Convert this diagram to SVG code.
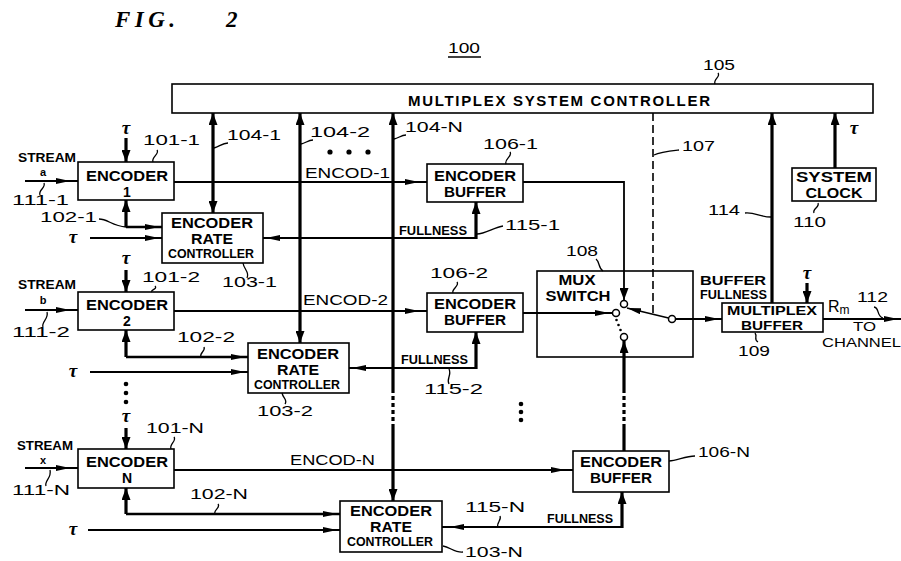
<svg xmlns="http://www.w3.org/2000/svg" width="901" height="561" viewBox="0 0 901 561">
<style>
.bg{fill:#fff}
.box{fill:#fff;stroke:#000;stroke-width:1.6}
.tk{fill:none;stroke:#000;stroke-width:3.2}
.tn{fill:none;stroke:#000;stroke-width:1.8}
.ld{fill:none;stroke:#000;stroke-width:1.3}
.dot{fill:#000}
text{font-family:"Liberation Sans",Arial,sans-serif;fill:#000}
.bt{font-size:14px;font-weight:bold;text-anchor:middle}
.lb{font-size:15px}
.cd{font-size:12px;font-weight:bold}
.st{font-size:12px;font-weight:bold}
.sl{font-size:11px;font-weight:bold;text-anchor:middle}
.tau{font-family:"Liberation Serif",serif;font-style:italic;font-size:19px;font-weight:bold;text-anchor:middle}
</style>
<defs>
<marker id="at" markerUnits="userSpaceOnUse" markerWidth="12" markerHeight="9" refX="12" refY="4.5" orient="auto-start-reverse"><path d="M0,0L12,4.5L0,9z"/></marker>
<marker id="an" markerUnits="userSpaceOnUse" markerWidth="14" markerHeight="6" refX="14" refY="3" orient="auto"><path d="M0,0L14,3L0,6z"/></marker>
<marker id="ag" markerUnits="userSpaceOnUse" markerWidth="14" markerHeight="6" refX="22" refY="3" orient="auto" overflow="visible"><path d="M0,0L14,3L0,6z"/></marker>
<marker id="ag2" markerUnits="userSpaceOnUse" markerWidth="14" markerHeight="6" refX="17" refY="3" orient="auto" overflow="visible"><path d="M0,0L14,3L0,6z"/></marker>
</defs>
<rect class="bg" width="901" height="561"/>

<text x="115" y="27" textLength="76" style="font-family:'Liberation Serif',serif;font-style:italic;font-weight:bold;font-size:23px">FIG.<tspan x="226">2</tspan></text>
<g id="label-100"><text class="lb" x="448" y="53" textLength="32" lengthAdjust="spacingAndGlyphs">100</text><path d="M448,57H481" class="ld"/></g>

<g id="n105">
<rect class="box" x="172" y="84" width="701" height="29"/>
<text x="408" y="106" textLength="302" style="font-weight:bold;font-size:15px">MULTIPLEX SYSTEM CONTROLLER</text>
<text class="lb" x="703" y="70" textLength="32" lengthAdjust="spacingAndGlyphs">105</text>
</g>

<g id="n101-1">
<rect class="box" x="78" y="162" width="96" height="38"/>
<text class="bt" x="127" y="181" textLength="82" lengthAdjust="spacingAndGlyphs">ENCODER</text>
<text class="bt" x="127" y="197">1</text>
<text class="lb" x="143" y="145" textLength="57" lengthAdjust="spacingAndGlyphs">101-1</text>
</g>
<g id="n103-1">
<rect class="box" x="162" y="213" width="101" height="50"/>
<text class="bt" x="212" y="228" textLength="82" lengthAdjust="spacingAndGlyphs">ENCODER</text>
<text class="bt" x="212" y="244" textLength="42" lengthAdjust="spacingAndGlyphs">RATE</text>
<text class="cd" x="168" y="258" textLength="86" lengthAdjust="spacingAndGlyphs">CONTROLLER</text>
<text class="lb" x="222" y="287" textLength="55" lengthAdjust="spacingAndGlyphs">103-1</text>
</g>
<g id="n106-1">
<rect class="box" x="427" y="164" width="96" height="38"/>
<text class="bt" x="475" y="181" textLength="82" lengthAdjust="spacingAndGlyphs">ENCODER</text>
<text class="bt" x="475" y="197" textLength="62" lengthAdjust="spacingAndGlyphs">BUFFER</text>
<text class="lb" x="483" y="149" textLength="55" lengthAdjust="spacingAndGlyphs">106-1</text>
</g>

<g id="n101-2">
<rect class="box" x="78" y="292" width="96" height="38"/>
<text class="bt" x="127" y="310" textLength="82" lengthAdjust="spacingAndGlyphs">ENCODER</text>
<text class="bt" x="127" y="326">2</text>
<text class="lb" x="142" y="282" textLength="58" lengthAdjust="spacingAndGlyphs">101-2</text>
</g>
<g id="n103-2">
<rect class="box" x="248" y="343" width="101" height="50"/>
<text class="bt" x="298" y="359" textLength="82" lengthAdjust="spacingAndGlyphs">ENCODER</text>
<text class="bt" x="298" y="375" textLength="42" lengthAdjust="spacingAndGlyphs">RATE</text>
<text class="cd" x="254" y="389" textLength="86" lengthAdjust="spacingAndGlyphs">CONTROLLER</text>
<text class="lb" x="257" y="416" textLength="56" lengthAdjust="spacingAndGlyphs">103-2</text>
</g>
<g id="n106-2">
<rect class="box" x="427" y="293" width="96" height="39"/>
<text class="bt" x="475" y="309" textLength="82" lengthAdjust="spacingAndGlyphs">ENCODER</text>
<text class="bt" x="475" y="325" textLength="62" lengthAdjust="spacingAndGlyphs">BUFFER</text>
<text class="lb" x="430" y="278" textLength="58" lengthAdjust="spacingAndGlyphs">106-2</text>
</g>

<g id="n101-N">
<rect class="box" x="78" y="449" width="96" height="39"/>
<text class="bt" x="127" y="467" textLength="82" lengthAdjust="spacingAndGlyphs">ENCODER</text>
<text class="bt" x="127" y="483">N</text>
<text class="lb" x="146" y="433" textLength="58" lengthAdjust="spacingAndGlyphs">101-N</text>
</g>
<g id="n103-N">
<rect class="box" x="340" y="501" width="102" height="51"/>
<text class="bt" x="391" y="516" textLength="82" lengthAdjust="spacingAndGlyphs">ENCODER</text>
<text class="bt" x="391" y="532" textLength="42" lengthAdjust="spacingAndGlyphs">RATE</text>
<text class="cd" x="347" y="546" textLength="86" lengthAdjust="spacingAndGlyphs">CONTROLLER</text>
<text class="lb" x="465" y="557" textLength="58" lengthAdjust="spacingAndGlyphs">103-N</text>
</g>
<g id="n106-N">
<rect class="box" x="573" y="451" width="96" height="41"/>
<text class="bt" x="621" y="467" textLength="82" lengthAdjust="spacingAndGlyphs">ENCODER</text>
<text class="bt" x="621" y="483" textLength="62" lengthAdjust="spacingAndGlyphs">BUFFER</text>
<text class="lb" x="698" y="457" textLength="52" lengthAdjust="spacingAndGlyphs">106-N</text>
</g>

<g id="n108">
<rect class="box" x="537" y="271" width="156" height="86"/>
<text class="bt" x="577" y="285" textLength="37" lengthAdjust="spacingAndGlyphs">MUX</text>
<text class="bt" x="578" y="301" textLength="65" lengthAdjust="spacingAndGlyphs">SWITCH</text>
<text class="lb" x="566" y="256" textLength="32" lengthAdjust="spacingAndGlyphs">108</text>
<g fill="#fff" stroke="#000" stroke-width="1.5">
<circle cx="624" cy="304" r="3.5"/>
<circle cx="616" cy="313" r="3.5"/>
<circle cx="624" cy="337" r="3.5"/>
<circle cx="672" cy="319" r="3.5"/>
</g>
<circle class="dot" cx="616.5" cy="320" r="1.3"/>
<circle class="dot" cx="618.5" cy="325" r="1.3"/>
<circle class="dot" cx="620.5" cy="330" r="1.3"/>
</g>

<g id="n109">
<rect class="box" x="722" y="303" width="101" height="29"/>
<text class="bt" x="772" y="315" textLength="90" lengthAdjust="spacingAndGlyphs" style="font-size:13px">MULTIPLEX</text>
<text class="bt" x="772" y="330" textLength="62" lengthAdjust="spacingAndGlyphs" style="font-size:13px">BUFFER</text>
<text class="lb" x="738" y="356" textLength="32" lengthAdjust="spacingAndGlyphs">109</text>
</g>

<g id="n110">
<rect class="box" x="792" y="168" width="84" height="33"/>
<text class="bt" x="834" y="182" textLength="76" lengthAdjust="spacingAndGlyphs">SYSTEM</text>
<text class="bt" x="834" y="198" textLength="57" lengthAdjust="spacingAndGlyphs">CLOCK</text>
<text class="lb" x="793" y="227" textLength="33" lengthAdjust="spacingAndGlyphs">110</text>
</g>

<g id="labels">
<text class="st" x="18" y="162" textLength="58" lengthAdjust="spacingAndGlyphs">STREAM</text>
<text class="sl" x="43" y="176">a</text>
<text class="lb" x="12" y="205" textLength="57" lengthAdjust="spacingAndGlyphs">111-1</text>
<text class="lb" x="40" y="222" textLength="57" lengthAdjust="spacingAndGlyphs">102-1</text>
<text class="lb" x="227" y="140" textLength="54" lengthAdjust="spacingAndGlyphs">104-1</text>
<text class="lb" x="310" y="137" textLength="60" lengthAdjust="spacingAndGlyphs">104-2</text>
<text class="lb" x="405" y="132" textLength="58" lengthAdjust="spacingAndGlyphs">104-N</text>
<text class="lb" x="305" y="178" textLength="85" lengthAdjust="spacingAndGlyphs">ENCOD-1</text>
<text class="cd" x="399" y="235" textLength="68" lengthAdjust="spacingAndGlyphs">FULLNESS</text>
<text class="lb" x="505" y="230" textLength="55" lengthAdjust="spacingAndGlyphs">115-1</text>

<text class="st" x="18" y="289" textLength="58" lengthAdjust="spacingAndGlyphs">STREAM</text>
<text class="sl" x="43" y="304">b</text>
<text class="lb" x="12" y="337" textLength="58" lengthAdjust="spacingAndGlyphs">111-2</text>
<text class="lb" x="177" y="342" textLength="58" lengthAdjust="spacingAndGlyphs">102-2</text>
<text class="lb" x="303" y="305" textLength="85" lengthAdjust="spacingAndGlyphs">ENCOD-2</text>
<text class="cd" x="401" y="364" textLength="67" lengthAdjust="spacingAndGlyphs">FULLNESS</text>
<text class="lb" x="424" y="394" textLength="59" lengthAdjust="spacingAndGlyphs">115-2</text>

<text class="st" x="17" y="450" textLength="56" lengthAdjust="spacingAndGlyphs">STREAM</text>
<text class="sl" x="43" y="464">x</text>
<text class="lb" x="12" y="495" textLength="58" lengthAdjust="spacingAndGlyphs">111-N</text>
<text class="lb" x="190" y="499" textLength="58" lengthAdjust="spacingAndGlyphs">102-N</text>
<text class="lb" x="290" y="465" textLength="85" lengthAdjust="spacingAndGlyphs">ENCOD-N</text>
<text class="lb" x="465" y="512" textLength="60" lengthAdjust="spacingAndGlyphs">115-N</text>
<text class="cd" x="547" y="523" textLength="66" lengthAdjust="spacingAndGlyphs">FULLNESS</text>

<text class="lb" x="682" y="151" textLength="33" lengthAdjust="spacingAndGlyphs">107</text>
<text class="lb" x="708" y="215" textLength="32" lengthAdjust="spacingAndGlyphs">114</text>
<text class="cd" x="700" y="285" textLength="66" lengthAdjust="spacingAndGlyphs">BUFFER</text>
<text class="cd" x="700" y="299" textLength="67" lengthAdjust="spacingAndGlyphs">FULLNESS</text>
<text class="lb" x="828" y="312" style="font-size:16px">R<tspan style="font-size:12px" dy="2">m</tspan></text>
<text class="lb" x="857" y="302" textLength="31" lengthAdjust="spacingAndGlyphs">112</text>
<text class="lb" x="853" y="331" textLength="23" lengthAdjust="spacingAndGlyphs" style="font-size:13px">TO</text>
<text class="lb" x="822" y="347" textLength="79" lengthAdjust="spacingAndGlyphs" style="font-size:13px">CHANNEL</text>

<text class="tau" x="126" y="134">τ</text>
<text class="tau" x="126" y="264">τ</text>
<text class="tau" x="126" y="422">τ</text>
<text class="tau" x="73" y="243">τ</text>
<text class="tau" x="73" y="377">τ</text>
<text class="tau" x="73" y="535">τ</text>
<text class="tau" x="807" y="279">τ</text>
<text class="tau" x="854" y="134">τ</text>
</g>

<g id="connectors">
<g class="ld">
<path d="M718,73C721,77 713,79 715,84"/>
<path d="M157,150C160,154 151,157 153,162"/>
<path d="M214,148C219,147 222,143 228,143"/>
<path d="M301,144C306,143 308,140 313,140"/>
<path d="M394,139C399,138 401,135 406,135"/>
<path d="M510,152C513,156 504,159 506,164"/>
<path d="M477,234C485,234 495,227 503,226"/>
<path d="M99,219C108,219 112,226 126,227"/>
<path d="M40,195C38,190 46,188 44,183"/>
<path d="M243,263C244,270 250,272 247,278"/>
<path d="M155,286C158,289 150,290 152,292"/>
<path d="M43,327C41,322 49,319 47,312"/>
<path d="M204,347C206,351 199,353 201,357"/>
<path d="M457,282C460,286 451,289 453,293"/>
<path d="M449,384C446,379 452,375 449,369"/>
<path d="M282,393C283,398 288,400 285,404"/>
<path d="M174,437C177,441 169,444 171,449"/>
<path d="M46,486C44,481 52,478 50,470"/>
<path d="M218,504C221,508 213,510 215,514"/>
<path d="M500,516C502,520 496,523 498,527"/>
<path d="M443,546C450,547 455,553 463,552"/>
<path d="M669,461C677,461 685,456 695,456"/>
<path d="M654,155C660,152 670,151 679,150"/>
<path d="M596,259C600,262 598,268 603,271"/>
<path d="M745,213C755,212 760,217 771,217"/>
<path d="M818,203C820,207 812,209 814,213"/>
<path d="M755,333C758,337 753,339 758,342"/>
<path d="M874,307C880,308 876,316 883,318"/>
</g>
<path class="tk" d="M126,138V162" marker-end="url(#at)"/>
<path class="tk" d="M126,270V292" marker-end="url(#at)"/>
<path class="tk" d="M126,428V449" marker-end="url(#at)"/>
<path class="tk" d="M807,283V303" marker-end="url(#at)"/>
<path class="tn" d="M25,181H78" marker-end="url(#ag)"/>
<path class="tn" d="M25,310H78" marker-end="url(#ag)"/>
<path class="tn" d="M25,468H78" marker-end="url(#ag)"/>
<path class="tn" d="M174,182H427" marker-end="url(#ag)"/>
<path class="tn" d="M174,311H427" marker-end="url(#ag)"/>
<path class="tn" d="M174,470H573" marker-end="url(#ag)"/>
<path class="tk" d="M126,227V200" marker-end="url(#at)"/>
<path class="tk" d="M126,227H162" style="stroke-width:2.4" marker-end="url(#ag2)"/>
<path class="tk" d="M126,357V330" marker-end="url(#at)"/>
<path class="tk" d="M126,357H248" style="stroke-width:2.4" marker-end="url(#ag2)"/>
<path class="tk" d="M126,514V488" marker-end="url(#at)"/>
<path class="tk" d="M126,514H340" style="stroke-width:2.4" marker-end="url(#ag2)"/>
<path class="tn" d="M90,238H162" marker-end="url(#ag2)"/>
<path class="tn" d="M90,372H248" marker-end="url(#ag2)"/>
<path class="tn" d="M88,530H340" marker-end="url(#ag2)"/>
<path class="tk" d="M213,113V213" marker-start="url(#at)" marker-end="url(#at)"/>
<path class="tk" d="M300,113V343" marker-start="url(#at)" marker-end="url(#at)"/>
<path class="tk" d="M393,113V393" marker-start="url(#at)"/>
<path class="tk" d="M393,396V422" style="stroke-dasharray:4 3"/>
<path class="tk" d="M393,424V501" marker-end="url(#at)"/>
<path class="tn" d="M476,238H263" style="stroke-width:2.2" marker-end="url(#ag2)"/>
<path class="tk" d="M476,239V202" marker-end="url(#at)"/>
<path class="tn" d="M476,368H349" style="stroke-width:2.2" marker-end="url(#ag2)"/>
<path class="tk" d="M476,369V332" marker-end="url(#at)"/>
<path class="tn" d="M622,527H442" style="stroke-width:2.2" marker-end="url(#ag)"/>
<path class="tk" d="M622,528V492" marker-end="url(#at)"/>
<path class="tn" d="M523,182H624V300" marker-end="url(#at)"/>
<path class="tn" d="M523,313H612" marker-end="url(#ag2)"/>
<path class="tk" d="M624,451V424"/>
<path class="tk" d="M624,421V395" style="stroke-dasharray:4 3"/>
<path class="tk" d="M624,393V341" marker-end="url(#at)"/>
<path class="tn" d="M668.5,318L627,308" style="stroke-width:1.6" marker-end="url(#an)"/>
<path class="tn" d="M653,113V314" style="stroke-width:1.6;stroke-dasharray:8 4"/>
<path class="tn" d="M676,319H722" marker-end="url(#ag2)"/>
<path class="tk" d="M772,303V113" marker-end="url(#at)"/>
<path class="tk" d="M835,168V113" marker-end="url(#at)"/>
<path class="tn" d="M823,319H901" marker-end="url(#ag2)"/>
<circle class="dot" cx="330" cy="152" r="2.6"/>
<circle class="dot" cx="349" cy="152" r="2.6"/>
<circle class="dot" cx="368" cy="152" r="2.6"/>
<circle class="dot" cx="126" cy="384" r="2.3"/>
<circle class="dot" cx="126" cy="393" r="2.3"/>
<circle class="dot" cx="126" cy="402" r="2.3"/>
<circle class="dot" cx="521" cy="404" r="2.3"/>
<circle class="dot" cx="521" cy="412" r="2.3"/>
<circle class="dot" cx="521" cy="420" r="2.3"/>
</g>
</svg>
